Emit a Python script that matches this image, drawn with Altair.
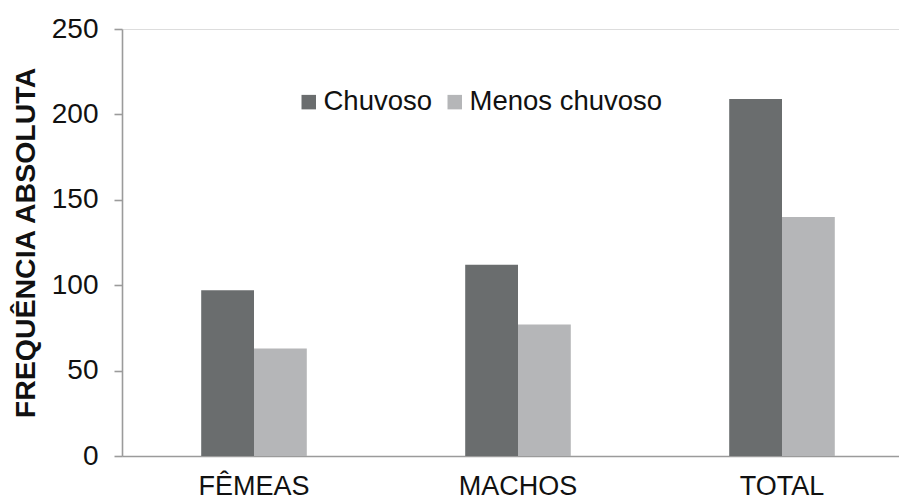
import altair as alt
import pandas as pd

# Absolute frequency by group and season
categories = ["FÊMEAS", "MACHOS", "TOTAL"]
seasons = ["Chuvoso", "Menos chuvoso"]
chuvoso = [97, 112, 209]
menos_chuvoso = [63, 77, 140]

rows = []
for cat, a, b in zip(categories, chuvoso, menos_chuvoso):
    rows.append({"grupo": cat, "periodo": seasons[0], "freq": a})
    rows.append({"grupo": cat, "periodo": seasons[1], "freq": b})
df = pd.DataFrame(rows)

FONT = "Liberation Sans"
AXIS_GREY = "#9b9b9b"

chart = (
    alt.Chart(df)
    .mark_bar()
    .encode(
        x=alt.X(
            "grupo:N",
            sort=categories,
            scale=alt.Scale(range=[0, 792], paddingInner=0.6, paddingOuter=0.3),
            axis=alt.Axis(
                title=None,
                labelAngle=0,
                ticks=False,
                labelPadding=17,
                labelFontSize=27,
                labelFont=FONT,
                labelColor="#111111",
                domainColor=AXIS_GREY,
                domainWidth=1.6,
            ),
        ),
        xOffset=alt.XOffset("periodo:N", sort=seasons, scale=alt.Scale(paddingInner=0, paddingOuter=0)),
        y=alt.Y(
            "freq:Q",
            scale=alt.Scale(domain=[0, 250], nice=False),
            axis=alt.Axis(
                title="FREQUÊNCIA ABSOLUTA",
                values=[0, 50, 100, 150, 200, 250],
                grid=False,
                tickSize=8,
                tickColor=AXIS_GREY,
                tickWidth=1.6,
                domainColor=AXIS_GREY,
                domainWidth=1.6,
                labelPadding=16,
                labelFontSize=28,
                labelFont=FONT,
                labelColor="#111111",
                titleFont=FONT,
                titleFontSize=28.5,
                titleFontWeight="bold",
                titleColor="#111111",
                titlePadding=11,
            ),
        ),
        color=alt.Color(
            "periodo:N",
            sort=seasons,
            scale=alt.Scale(domain=seasons, range=["#6a6d6e", "#b5b6b8"]),
            legend=alt.Legend(
                title=None,
                orient="none",
                direction="horizontal",
                legendX=173,
                legendY=59,
                symbolType="square",
                symbolSize=210,
                symbolStrokeWidth=0,
                labelFont=FONT,
                labelFontSize=27.5,
                labelColor="#111111",
                labelLimit=400,
                labelOffset=1,
                columnPadding=8,
            ),
        ),
    )
    .properties(
        width=777,
        height=427,
        autosize=alt.AutoSizeParams(type="none"),
        padding={"left": 122, "top": 29, "right": 0, "bottom": 45},
    )
    .configure_view(stroke=None)
    .configure(background="white")
)

chart.save("out.html", embed_options={"renderer": "svg", "actions": False})
